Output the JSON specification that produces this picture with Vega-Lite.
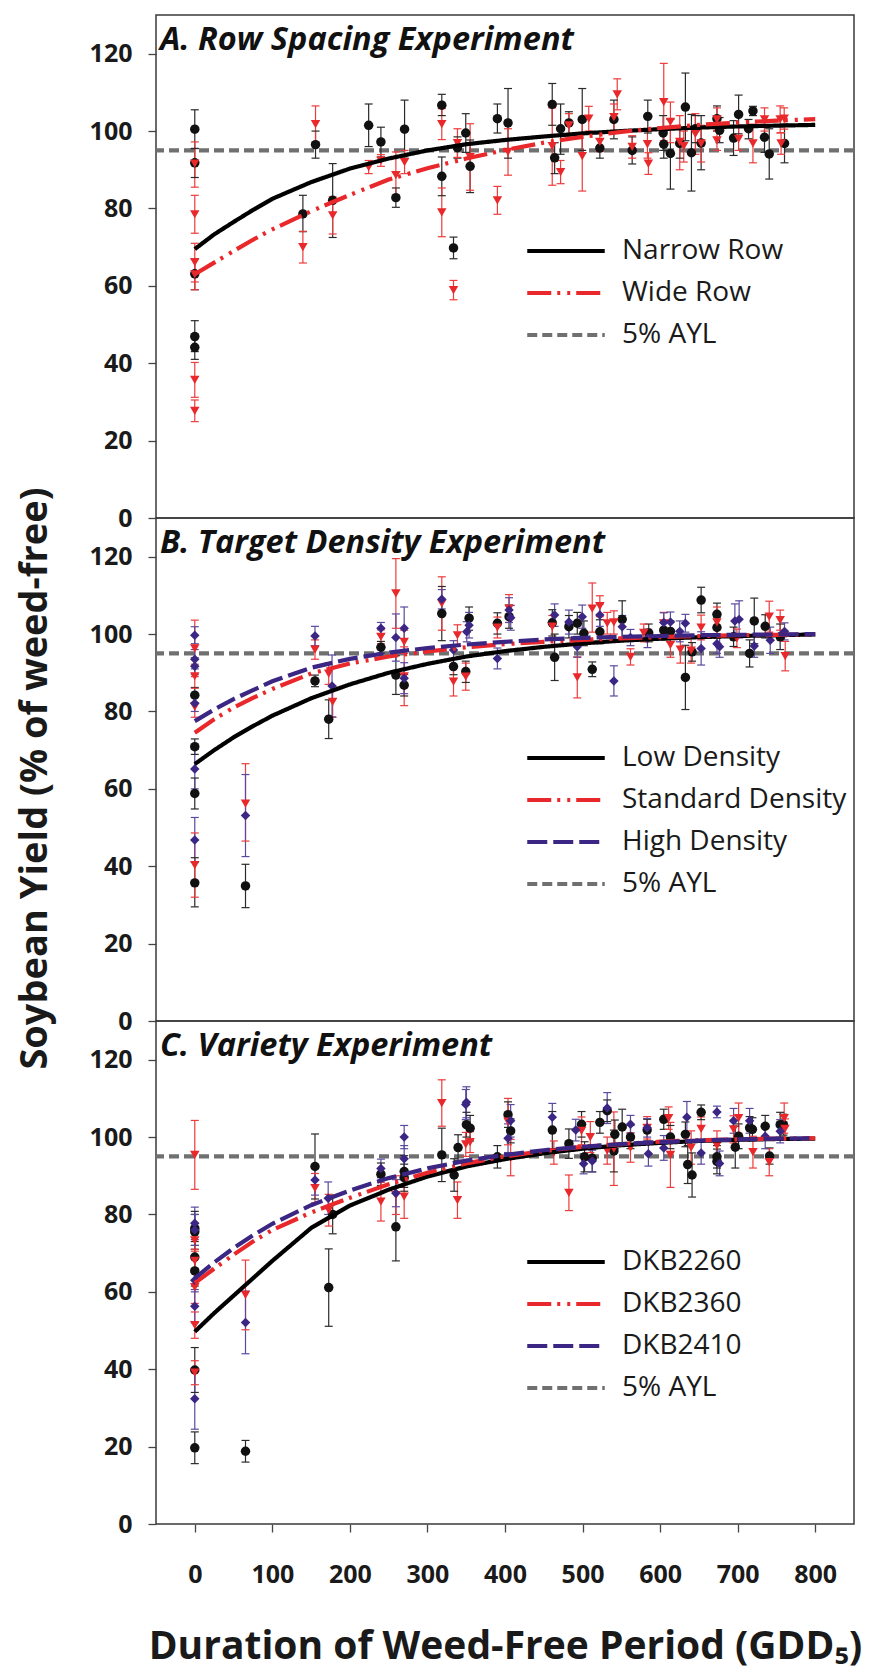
{
"$schema": "https://vega.github.io/schema/vega-lite/v6.json",
"padding": {"left": 15, "top": 14, "right": 0, "bottom": 3},
"autosize": {"type": "pad"},
"background": "white",
"bounds": "flush",
"spacing": 0,
"datasets": {
"ayl": [{"p":"A","s":"5% AYL","y":95},{"p":"B","s":"5% AYL","y":95},{"p":"C","s":"5% AYL","y":95}],
"pts": [
{"p":"A","s":"Narrow Row","x":0,"y":100.5,"lo":95.5,"hi":105.5},
{"p":"A","s":"Narrow Row","x":0,"y":91.8,"lo":88,"hi":95.5},
{"p":"A","s":"Narrow Row","x":0,"y":63.1,"lo":59,"hi":67},
{"p":"A","s":"Narrow Row","x":0,"y":46.9,"lo":43,"hi":51},
{"p":"A","s":"Narrow Row","x":0,"y":44.1,"lo":41,"hi":47.5},
{"p":"A","s":"Narrow Row","x":139.4,"y":78.6,"lo":74,"hi":83.4},
{"p":"A","s":"Narrow Row","x":155.7,"y":96.5,"lo":93,"hi":100},
{"p":"A","s":"Narrow Row","x":177.8,"y":82.1,"lo":72.5,"hi":91.6},
{"p":"A","s":"Narrow Row","x":224.2,"y":101.5,"lo":96,"hi":107},
{"p":"A","s":"Narrow Row","x":240,"y":97.2,"lo":93.3,"hi":101},
{"p":"A","s":"Narrow Row","x":259.3,"y":82.8,"lo":80.3,"hi":85.3},
{"p":"A","s":"Narrow Row","x":270.5,"y":100.5,"lo":93,"hi":108},
{"p":"A","s":"Narrow Row","x":318.5,"y":106.7,"lo":104,"hi":109.5},
{"p":"A","s":"Narrow Row","x":318.5,"y":88.3,"lo":83.3,"hi":93.3},
{"p":"A","s":"Narrow Row","x":333.6,"y":69.8,"lo":67,"hi":72.6},
{"p":"A","s":"Narrow Row","x":338.7,"y":95.7,"lo":93,"hi":98.5},
{"p":"A","s":"Narrow Row","x":349.4,"y":99.5,"lo":94.5,"hi":104.5},
{"p":"A","s":"Narrow Row","x":355,"y":90.9,"lo":84.1,"hi":97.7},
{"p":"A","s":"Narrow Row","x":390.2,"y":103.2,"lo":99.5,"hi":107},
{"p":"A","s":"Narrow Row","x":403.9,"y":102.1,"lo":93,"hi":111},
{"p":"A","s":"Narrow Row","x":460.9,"y":106.9,"lo":101.5,"hi":112.3},
{"p":"A","s":"Narrow Row","x":464,"y":93.1,"lo":89,"hi":97},
{"p":"A","s":"Narrow Row","x":471.7,"y":100.6,"lo":94,"hi":107},
{"p":"A","s":"Narrow Row","x":482.4,"y":102.1,"lo":99,"hi":105},
{"p":"A","s":"Narrow Row","x":499.6,"y":103,"lo":95,"hi":111},
{"p":"A","s":"Narrow Row","x":522.3,"y":95.6,"lo":93,"hi":98},
{"p":"A","s":"Narrow Row","x":540.4,"y":103,"lo":98,"hi":108},
{"p":"A","s":"Narrow Row","x":564,"y":95,"lo":91.5,"hi":98.5},
{"p":"A","s":"Narrow Row","x":584.1,"y":103.8,"lo":99.5,"hi":108},
{"p":"A","s":"Narrow Row","x":603.9,"y":99.5,"lo":95,"hi":104},
{"p":"A","s":"Narrow Row","x":604.7,"y":96.6,"lo":93,"hi":100},
{"p":"A","s":"Narrow Row","x":613.3,"y":94.2,"lo":85,"hi":103},
{"p":"A","s":"Narrow Row","x":632.6,"y":106.2,"lo":97.5,"hi":115},
{"p":"A","s":"Narrow Row","x":625.3,"y":96.8,"lo":93,"hi":100.5},
{"p":"A","s":"Narrow Row","x":640.4,"y":94.4,"lo":84.5,"hi":104.3},
{"p":"A","s":"Narrow Row","x":645.5,"y":100.6,"lo":97,"hi":104},
{"p":"A","s":"Narrow Row","x":652.9,"y":96.9,"lo":90,"hi":104},
{"p":"A","s":"Narrow Row","x":673.3,"y":103.2,"lo":100,"hi":106.5},
{"p":"A","s":"Narrow Row","x":676.7,"y":100.2,"lo":97,"hi":103.5},
{"p":"A","s":"Narrow Row","x":694.7,"y":98.2,"lo":93.7,"hi":102.7},
{"p":"A","s":"Narrow Row","x":701.2,"y":104.3,"lo":99.3,"hi":109.3},
{"p":"A","s":"Narrow Row","x":719.7,"y":105.2,"lo":104,"hi":106.4},
{"p":"A","s":"Narrow Row","x":714,"y":100.6,"lo":98,"hi":103},
{"p":"A","s":"Narrow Row","x":734.6,"y":98.4,"lo":94.5,"hi":102.3},
{"p":"A","s":"Narrow Row","x":740.7,"y":94.1,"lo":87.6,"hi":100.6},
{"p":"A","s":"Narrow Row","x":760.4,"y":96.8,"lo":91.8,"hi":101.8},
{"p":"A","s":"Wide Row","x":0,"y":91.6,"lo":85.5,"hi":97.2},
{"p":"A","s":"Wide Row","x":0,"y":78.5,"lo":73.6,"hi":83.4},
{"p":"A","s":"Wide Row","x":0,"y":66.1,"lo":61,"hi":71},
{"p":"A","s":"Wide Row","x":0,"y":63,"lo":59,"hi":67},
{"p":"A","s":"Wide Row","x":0,"y":35.7,"lo":31.2,"hi":40.2},
{"p":"A","s":"Wide Row","x":0,"y":27.7,"lo":24.9,"hi":30.5},
{"p":"A","s":"Wide Row","x":139.4,"y":70,"lo":65.9,"hi":74.1},
{"p":"A","s":"Wide Row","x":155.7,"y":101.8,"lo":97.1,"hi":106.5},
{"p":"A","s":"Wide Row","x":177.8,"y":78.2,"lo":73.4,"hi":83},
{"p":"A","s":"Wide Row","x":224.2,"y":90.7,"lo":89,"hi":92.4},
{"p":"A","s":"Wide Row","x":240,"y":92.4,"lo":90.9,"hi":93.9},
{"p":"A","s":"Wide Row","x":259.3,"y":88.6,"lo":82.6,"hi":94.6},
{"p":"A","s":"Wide Row","x":270.5,"y":92,"lo":89,"hi":95},
{"p":"A","s":"Wide Row","x":318.5,"y":101.8,"lo":97.8,"hi":105.8},
{"p":"A","s":"Wide Row","x":318.5,"y":79,"lo":72.7,"hi":85.3},
{"p":"A","s":"Wide Row","x":333.6,"y":58.9,"lo":56.4,"hi":61.4},
{"p":"A","s":"Wide Row","x":338.7,"y":96.9,"lo":93.2,"hi":100.6},
{"p":"A","s":"Wide Row","x":355,"y":93.3,"lo":84.7,"hi":101.9},
{"p":"A","s":"Wide Row","x":390.2,"y":82.1,"lo":78.5,"hi":85.7},
{"p":"A","s":"Wide Row","x":403.9,"y":94.6,"lo":88.6,"hi":100.6},
{"p":"A","s":"Wide Row","x":460.9,"y":96.1,"lo":86,"hi":106},
{"p":"A","s":"Wide Row","x":471.7,"y":89.4,"lo":86.4,"hi":92.4},
{"p":"A","s":"Wide Row","x":482.4,"y":101.5,"lo":98.5,"hi":104.5},
{"p":"A","s":"Wide Row","x":499.6,"y":93.5,"lo":84.5,"hi":102.5},
{"p":"A","s":"Wide Row","x":508,"y":103.2,"lo":100,"hi":106.4},
{"p":"A","s":"Wide Row","x":522.3,"y":97.2,"lo":94.7,"hi":99.7},
{"p":"A","s":"Wide Row","x":544.7,"y":109.5,"lo":105.5,"hi":113.5},
{"p":"A","s":"Wide Row","x":540.4,"y":103.6,"lo":100,"hi":107},
{"p":"A","s":"Wide Row","x":564,"y":95.9,"lo":93,"hi":98.8},
{"p":"A","s":"Wide Row","x":583.7,"y":96.6,"lo":93,"hi":100},
{"p":"A","s":"Wide Row","x":584.9,"y":91.6,"lo":88.8,"hi":94.4},
{"p":"A","s":"Wide Row","x":604.7,"y":107.5,"lo":97.5,"hi":117.5},
{"p":"A","s":"Wide Row","x":613.3,"y":102.4,"lo":97,"hi":107.5},
{"p":"A","s":"Wide Row","x":625.3,"y":97.2,"lo":90,"hi":104},
{"p":"A","s":"Wide Row","x":630.5,"y":96.1,"lo":92,"hi":100},
{"p":"A","s":"Wide Row","x":645.5,"y":99.3,"lo":94,"hi":104.5},
{"p":"A","s":"Wide Row","x":652.9,"y":96.8,"lo":92,"hi":101.5},
{"p":"A","s":"Wide Row","x":673.3,"y":97.6,"lo":95,"hi":100.2},
{"p":"A","s":"Wide Row","x":673.3,"y":103,"lo":100,"hi":106},
{"p":"A","s":"Wide Row","x":701.2,"y":98,"lo":95,"hi":101},
{"p":"A","s":"Wide Row","x":719.7,"y":96.8,"lo":91.8,"hi":101.8},
{"p":"A","s":"Wide Row","x":734.6,"y":103,"lo":100,"hi":106},
{"p":"A","s":"Wide Row","x":754.8,"y":103,"lo":99.5,"hi":106.5},
{"p":"A","s":"Wide Row","x":756,"y":96.8,"lo":94,"hi":99.6},
{"p":"A","s":"Wide Row","x":760,"y":103.2,"lo":100.5,"hi":106},
{"p":"B","s":"Low Density","x":0,"y":84.2,"lo":82.2,"hi":86.2},
{"p":"B","s":"Low Density","x":0,"y":70.9,"lo":68.9,"hi":72.9},
{"p":"B","s":"Low Density","x":0,"y":58.8,"lo":54.8,"hi":62.8},
{"p":"B","s":"Low Density","x":0,"y":35.7,"lo":29.5,"hi":42.2},
{"p":"B","s":"Low Density","x":65.4,"y":34.9,"lo":29.3,"hi":40.5},
{"p":"B","s":"Low Density","x":155,"y":87.9,"lo":86.4,"hi":89.4},
{"p":"B","s":"Low Density","x":172.7,"y":78,"lo":73,"hi":83},
{"p":"B","s":"Low Density","x":240,"y":96.6,"lo":95.1,"hi":98.1},
{"p":"B","s":"Low Density","x":259.3,"y":89.4,"lo":84.4,"hi":94.4},
{"p":"B","s":"Low Density","x":270,"y":86.8,"lo":84,"hi":89.6},
{"p":"B","s":"Low Density","x":318.5,"y":105.3,"lo":98.3,"hi":112.3},
{"p":"B","s":"Low Density","x":333.6,"y":91.6,"lo":89.5,"hi":93.7},
{"p":"B","s":"Low Density","x":349.4,"y":90.3,"lo":87.5,"hi":93},
{"p":"B","s":"Low Density","x":353.7,"y":104.1,"lo":101,"hi":107},
{"p":"B","s":"Low Density","x":390.2,"y":102.8,"lo":100,"hi":105.5},
{"p":"B","s":"Low Density","x":405.2,"y":104.5,"lo":101.5,"hi":107.5},
{"p":"B","s":"Low Density","x":461,"y":102.9,"lo":99.5,"hi":106.3},
{"p":"B","s":"Low Density","x":464,"y":94,"lo":88,"hi":100},
{"p":"B","s":"Low Density","x":482.4,"y":101.9,"lo":99,"hi":104.8},
{"p":"B","s":"Low Density","x":493.2,"y":102.8,"lo":100,"hi":105.6},
{"p":"B","s":"Low Density","x":501.7,"y":100.2,"lo":97,"hi":103.4},
{"p":"B","s":"Low Density","x":512.5,"y":90.9,"lo":89,"hi":92.8},
{"p":"B","s":"Low Density","x":522.3,"y":100.6,"lo":97.5,"hi":103.7},
{"p":"B","s":"Low Density","x":551.1,"y":103.8,"lo":99,"hi":108.6},
{"p":"B","s":"Low Density","x":585.3,"y":100.3,"lo":98,"hi":102.6},
{"p":"B","s":"Low Density","x":604.7,"y":101,"lo":98.5,"hi":103.5},
{"p":"B","s":"Low Density","x":613.3,"y":100.7,"lo":98,"hi":103.4},
{"p":"B","s":"Low Density","x":632.6,"y":88.8,"lo":80.5,"hi":97.1},
{"p":"B","s":"Low Density","x":641.2,"y":95.4,"lo":93,"hi":97.8},
{"p":"B","s":"Low Density","x":652.9,"y":108.8,"lo":105.5,"hi":112.1},
{"p":"B","s":"Low Density","x":673.3,"y":105.1,"lo":102.2,"hi":108},
{"p":"B","s":"Low Density","x":673.3,"y":101.7,"lo":99,"hi":104.4},
{"p":"B","s":"Low Density","x":694.7,"y":99.3,"lo":96.8,"hi":101.8},
{"p":"B","s":"Low Density","x":715.4,"y":95,"lo":91.5,"hi":98.5},
{"p":"B","s":"Low Density","x":721.4,"y":103.4,"lo":97.5,"hi":109.3},
{"p":"B","s":"Low Density","x":735.5,"y":102,"lo":99,"hi":105},
{"p":"B","s":"Low Density","x":754.8,"y":99.3,"lo":96,"hi":102.6},
{"p":"B","s":"Standard Density","x":0,"y":96.3,"lo":89,"hi":103.6},
{"p":"B","s":"Standard Density","x":0,"y":89.1,"lo":86,"hi":92.2},
{"p":"B","s":"Standard Density","x":0,"y":81.2,"lo":78.5,"hi":83.9},
{"p":"B","s":"Standard Density","x":0,"y":40.3,"lo":32,"hi":48.6},
{"p":"B","s":"Standard Density","x":65.4,"y":56.2,"lo":46.5,"hi":66.5},
{"p":"B","s":"Standard Density","x":155,"y":96,"lo":93.5,"hi":98.5},
{"p":"B","s":"Standard Density","x":172.7,"y":89.8,"lo":87,"hi":92.6},
{"p":"B","s":"Standard Density","x":177.8,"y":82.5,"lo":78.5,"hi":86.5},
{"p":"B","s":"Standard Density","x":240,"y":99.3,"lo":97.5,"hi":101.1},
{"p":"B","s":"Standard Density","x":259.3,"y":110.5,"lo":101.5,"hi":119.5},
{"p":"B","s":"Standard Density","x":270,"y":98,"lo":95,"hi":101},
{"p":"B","s":"Standard Density","x":270,"y":89.1,"lo":81.5,"hi":96.7},
{"p":"B","s":"Standard Density","x":318.5,"y":107.9,"lo":101,"hi":114.8},
{"p":"B","s":"Standard Density","x":333.6,"y":87.7,"lo":84,"hi":91.4},
{"p":"B","s":"Standard Density","x":338.7,"y":99.7,"lo":97,"hi":102.4},
{"p":"B","s":"Standard Density","x":349.4,"y":89,"lo":85.5,"hi":92.5},
{"p":"B","s":"Standard Density","x":390.2,"y":101.7,"lo":99,"hi":104.4},
{"p":"B","s":"Standard Density","x":405.2,"y":106.6,"lo":103,"hi":110.2},
{"p":"B","s":"Standard Density","x":461,"y":101.9,"lo":99,"hi":104.8},
{"p":"B","s":"Standard Density","x":493.2,"y":88.8,"lo":83.5,"hi":94.1},
{"p":"B","s":"Standard Density","x":512.5,"y":106.6,"lo":100.5,"hi":113.2},
{"p":"B","s":"Standard Density","x":522.3,"y":107.2,"lo":104.5,"hi":109.9},
{"p":"B","s":"Standard Density","x":531.8,"y":102.8,"lo":100,"hi":105.6},
{"p":"B","s":"Standard Density","x":540.4,"y":103,"lo":100,"hi":106},
{"p":"B","s":"Standard Density","x":561.8,"y":94.1,"lo":92,"hi":96.2},
{"p":"B","s":"Standard Density","x":578.9,"y":100.3,"lo":98,"hi":102.6},
{"p":"B","s":"Standard Density","x":604.7,"y":102.8,"lo":100,"hi":105.6},
{"p":"B","s":"Standard Density","x":613.3,"y":97.2,"lo":94,"hi":100.4},
{"p":"B","s":"Standard Density","x":626.1,"y":96,"lo":92.5,"hi":99.5},
{"p":"B","s":"Standard Density","x":640,"y":95.7,"lo":92.5,"hi":98.9},
{"p":"B","s":"Standard Density","x":652.9,"y":101.7,"lo":98.5,"hi":104.9},
{"p":"B","s":"Standard Density","x":673.3,"y":103,"lo":99,"hi":107},
{"p":"B","s":"Standard Density","x":699,"y":98.9,"lo":96.5,"hi":101.3},
{"p":"B","s":"Standard Density","x":740.7,"y":104.5,"lo":100.5,"hi":108.5},
{"p":"B","s":"Standard Density","x":754.8,"y":103.6,"lo":101,"hi":106.2},
{"p":"B","s":"Standard Density","x":761.3,"y":94.3,"lo":90.5,"hi":98.1},
{"p":"B","s":"High Density","x":0,"y":99.7,"lo":97.5,"hi":101.9},
{"p":"B","s":"High Density","x":0,"y":93.5,"lo":91,"hi":96},
{"p":"B","s":"High Density","x":0,"y":91.7,"lo":89.5,"hi":93.9},
{"p":"B","s":"High Density","x":0,"y":82.1,"lo":80,"hi":84.2},
{"p":"B","s":"High Density","x":0,"y":65.1,"lo":60,"hi":70.2},
{"p":"B","s":"High Density","x":0,"y":46.8,"lo":41,"hi":52.6},
{"p":"B","s":"High Density","x":65.4,"y":53.1,"lo":42.5,"hi":63.7},
{"p":"B","s":"High Density","x":155,"y":99.5,"lo":97,"hi":102},
{"p":"B","s":"High Density","x":177,"y":86.6,"lo":78.6,"hi":94.6},
{"p":"B","s":"High Density","x":240,"y":101.5,"lo":100,"hi":103},
{"p":"B","s":"High Density","x":259.3,"y":99.1,"lo":93,"hi":105.2},
{"p":"B","s":"High Density","x":270,"y":101.5,"lo":96,"hi":107},
{"p":"B","s":"High Density","x":270,"y":88.6,"lo":84.6,"hi":92.6},
{"p":"B","s":"High Density","x":318.5,"y":109,"lo":106.5,"hi":111.5},
{"p":"B","s":"High Density","x":333.6,"y":95.9,"lo":93.5,"hi":98.3},
{"p":"B","s":"High Density","x":350.7,"y":100.6,"lo":98,"hi":103.2},
{"p":"B","s":"High Density","x":353.7,"y":102.3,"lo":99,"hi":105.6},
{"p":"B","s":"High Density","x":390.2,"y":93.7,"lo":91,"hi":96.4},
{"p":"B","s":"High Density","x":405.2,"y":106.2,"lo":103,"hi":109.4},
{"p":"B","s":"High Density","x":407.4,"y":104.2,"lo":101,"hi":107.4},
{"p":"B","s":"High Density","x":464,"y":104.9,"lo":102,"hi":107.8},
{"p":"B","s":"High Density","x":482.4,"y":103.1,"lo":100,"hi":106.2},
{"p":"B","s":"High Density","x":493.2,"y":96.7,"lo":94,"hi":99.4},
{"p":"B","s":"High Density","x":499.6,"y":104.5,"lo":101.5,"hi":107.5},
{"p":"B","s":"High Density","x":522.3,"y":104.9,"lo":102,"hi":107.8},
{"p":"B","s":"High Density","x":540.4,"y":87.9,"lo":84,"hi":91.8},
{"p":"B","s":"High Density","x":551.1,"y":101.9,"lo":99,"hi":104.8},
{"p":"B","s":"High Density","x":561.8,"y":99.1,"lo":97,"hi":101.2},
{"p":"B","s":"High Density","x":583.7,"y":98.9,"lo":96.5,"hi":101.3},
{"p":"B","s":"High Density","x":604.7,"y":103,"lo":100.5,"hi":105.5},
{"p":"B","s":"High Density","x":613.3,"y":103.1,"lo":100.5,"hi":105.7},
{"p":"B","s":"High Density","x":632.6,"y":102.8,"lo":100.5,"hi":105.1},
{"p":"B","s":"High Density","x":625.3,"y":100.7,"lo":98,"hi":103.4},
{"p":"B","s":"High Density","x":652.9,"y":96.3,"lo":92,"hi":100.6},
{"p":"B","s":"High Density","x":673.3,"y":97.5,"lo":95,"hi":100},
{"p":"B","s":"High Density","x":676.7,"y":96.7,"lo":94,"hi":99.4},
{"p":"B","s":"High Density","x":696.4,"y":103.4,"lo":99,"hi":107.8},
{"p":"B","s":"High Density","x":701.9,"y":103.8,"lo":99,"hi":108.6},
{"p":"B","s":"High Density","x":721.4,"y":96.9,"lo":94,"hi":99.8},
{"p":"B","s":"High Density","x":742,"y":98.4,"lo":95,"hi":101.8},
{"p":"B","s":"High Density","x":760.4,"y":100.7,"lo":98.5,"hi":102.9},
{"p":"C","s":"DKB2260","x":0,"y":76.4,"lo":72,"hi":80.8},
{"p":"C","s":"DKB2260","x":0,"y":75.5,"lo":71,"hi":80},
{"p":"C","s":"DKB2260","x":0,"y":69,"lo":65,"hi":73},
{"p":"C","s":"DKB2260","x":0,"y":65.4,"lo":61.5,"hi":69.3},
{"p":"C","s":"DKB2260","x":0,"y":39.8,"lo":34,"hi":45.6},
{"p":"C","s":"DKB2260","x":0,"y":19.7,"lo":15.6,"hi":23.8},
{"p":"C","s":"DKB2260","x":65.4,"y":18.8,"lo":16,"hi":21.6},
{"p":"C","s":"DKB2260","x":155,"y":92.4,"lo":84,"hi":100.8},
{"p":"C","s":"DKB2260","x":172.7,"y":61.1,"lo":51.1,"hi":71.1},
{"p":"C","s":"DKB2260","x":177.8,"y":80,"lo":75,"hi":85},
{"p":"C","s":"DKB2260","x":240,"y":90.4,"lo":87.5,"hi":93.3},
{"p":"C","s":"DKB2260","x":259.3,"y":76.8,"lo":68,"hi":85.6},
{"p":"C","s":"DKB2260","x":270,"y":91.1,"lo":87,"hi":95.2},
{"p":"C","s":"DKB2260","x":270,"y":89.5,"lo":86,"hi":93},
{"p":"C","s":"DKB2260","x":318.5,"y":95.4,"lo":88.5,"hi":102.3},
{"p":"C","s":"DKB2260","x":334.4,"y":90.2,"lo":86,"hi":94.4},
{"p":"C","s":"DKB2260","x":339.5,"y":97.3,"lo":94,"hi":100.6},
{"p":"C","s":"DKB2260","x":350.3,"y":103.2,"lo":100,"hi":106.4},
{"p":"C","s":"DKB2260","x":355,"y":102.3,"lo":99,"hi":105.6},
{"p":"C","s":"DKB2260","x":390.2,"y":94.9,"lo":92,"hi":97.8},
{"p":"C","s":"DKB2260","x":403.9,"y":105.8,"lo":102.5,"hi":109.1},
{"p":"C","s":"DKB2260","x":407.3,"y":101.6,"lo":98.5,"hi":104.7},
{"p":"C","s":"DKB2260","x":461,"y":101.8,"lo":97,"hi":106.6},
{"p":"C","s":"DKB2260","x":482.4,"y":98.3,"lo":94.5,"hi":102.1},
{"p":"C","s":"DKB2260","x":498.7,"y":103.3,"lo":100,"hi":106.6},
{"p":"C","s":"DKB2260","x":502.6,"y":94.9,"lo":91,"hi":98.8},
{"p":"C","s":"DKB2260","x":512.5,"y":94.5,"lo":91,"hi":98},
{"p":"C","s":"DKB2260","x":522.3,"y":103.8,"lo":101,"hi":106.6},
{"p":"C","s":"DKB2260","x":531.8,"y":106.8,"lo":104,"hi":109.6},
{"p":"C","s":"DKB2260","x":541.6,"y":100.7,"lo":97,"hi":104.4},
{"p":"C","s":"DKB2260","x":540.4,"y":96.4,"lo":91,"hi":101.8},
{"p":"C","s":"DKB2260","x":551.1,"y":102.6,"lo":98,"hi":107.2},
{"p":"C","s":"DKB2260","x":561.8,"y":100,"lo":97,"hi":103},
{"p":"C","s":"DKB2260","x":583.3,"y":101.8,"lo":99,"hi":104.6},
{"p":"C","s":"DKB2260","x":604.7,"y":104.6,"lo":102,"hi":107.2},
{"p":"C","s":"DKB2260","x":613.3,"y":100,"lo":97,"hi":103},
{"p":"C","s":"DKB2260","x":632.6,"y":100.7,"lo":97.5,"hi":103.9},
{"p":"C","s":"DKB2260","x":635.6,"y":92.9,"lo":88,"hi":97.8},
{"p":"C","s":"DKB2260","x":641.2,"y":90.2,"lo":84.5,"hi":95.9},
{"p":"C","s":"DKB2260","x":652.9,"y":106.4,"lo":104.5,"hi":108.3},
{"p":"C","s":"DKB2260","x":673.3,"y":94.9,"lo":92,"hi":97.8},
{"p":"C","s":"DKB2260","x":673.3,"y":93.7,"lo":90.5,"hi":96.9},
{"p":"C","s":"DKB2260","x":696.9,"y":97.4,"lo":92,"hi":102.8},
{"p":"C","s":"DKB2260","x":701.2,"y":100.2,"lo":97,"hi":103.4},
{"p":"C","s":"DKB2260","x":715.4,"y":102.4,"lo":99.5,"hi":105.3},
{"p":"C","s":"DKB2260","x":719,"y":102,"lo":99,"hi":105},
{"p":"C","s":"DKB2260","x":735.5,"y":102.8,"lo":100,"hi":105.6},
{"p":"C","s":"DKB2260","x":741.1,"y":95.1,"lo":93,"hi":97.2},
{"p":"C","s":"DKB2260","x":754.8,"y":103.2,"lo":100,"hi":106.4},
{"p":"C","s":"DKB2260","x":759,"y":103.2,"lo":100.5,"hi":105.9},
{"p":"C","s":"DKB2360","x":0,"y":95.4,"lo":86.5,"hi":104.3},
{"p":"C","s":"DKB2360","x":0,"y":73.3,"lo":70.5,"hi":76.1},
{"p":"C","s":"DKB2360","x":0,"y":68,"lo":65,"hi":71},
{"p":"C","s":"DKB2360","x":0,"y":61.2,"lo":57,"hi":65.4},
{"p":"C","s":"DKB2360","x":0,"y":51.4,"lo":48,"hi":54.8},
{"p":"C","s":"DKB2360","x":0,"y":39.1,"lo":36,"hi":42.2},
{"p":"C","s":"DKB2360","x":65.4,"y":59.2,"lo":50.2,"hi":68.2},
{"p":"C","s":"DKB2360","x":155,"y":86.8,"lo":83,"hi":90.6},
{"p":"C","s":"DKB2360","x":172.7,"y":81.1,"lo":77,"hi":85.2},
{"p":"C","s":"DKB2360","x":240,"y":83.3,"lo":78.3,"hi":88.3},
{"p":"C","s":"DKB2360","x":259.3,"y":85,"lo":80,"hi":90},
{"p":"C","s":"DKB2360","x":270,"y":84.6,"lo":79,"hi":90.2},
{"p":"C","s":"DKB2360","x":318.5,"y":108.8,"lo":102.8,"hi":114.8},
{"p":"C","s":"DKB2360","x":338.7,"y":83.7,"lo":79,"hi":88.4},
{"p":"C","s":"DKB2360","x":349.4,"y":98.1,"lo":95,"hi":101.2},
{"p":"C","s":"DKB2360","x":355,"y":98.7,"lo":96,"hi":101.4},
{"p":"C","s":"DKB2360","x":403.9,"y":104,"lo":98,"hi":110},
{"p":"C","s":"DKB2360","x":407.3,"y":94.7,"lo":90,"hi":99.4},
{"p":"C","s":"DKB2360","x":463,"y":96,"lo":93,"hi":99},
{"p":"C","s":"DKB2360","x":482.4,"y":85.6,"lo":81,"hi":90.2},
{"p":"C","s":"DKB2360","x":498.7,"y":101.6,"lo":98,"hi":105.2},
{"p":"C","s":"DKB2360","x":510,"y":100,"lo":96,"hi":104},
{"p":"C","s":"DKB2360","x":531.8,"y":96.5,"lo":93,"hi":100},
{"p":"C","s":"DKB2360","x":540.4,"y":97,"lo":87.5,"hi":106.5},
{"p":"C","s":"DKB2360","x":561.8,"y":97.3,"lo":93.5,"hi":101.1},
{"p":"C","s":"DKB2360","x":583.3,"y":102.4,"lo":99.5,"hi":105.3},
{"p":"C","s":"DKB2360","x":611,"y":104.9,"lo":102,"hi":107.8},
{"p":"C","s":"DKB2360","x":613.3,"y":95.4,"lo":87,"hi":103.8},
{"p":"C","s":"DKB2360","x":640,"y":97.3,"lo":93,"hi":101.6},
{"p":"C","s":"DKB2360","x":652.9,"y":102.1,"lo":99,"hi":105.2},
{"p":"C","s":"DKB2360","x":673.3,"y":97.8,"lo":94,"hi":101.6},
{"p":"C","s":"DKB2360","x":694.7,"y":102,"lo":98.5,"hi":105.5},
{"p":"C","s":"DKB2360","x":701.2,"y":104.9,"lo":101,"hi":108.8},
{"p":"C","s":"DKB2360","x":719.7,"y":96.1,"lo":92,"hi":100.2},
{"p":"C","s":"DKB2360","x":740.7,"y":93.5,"lo":90,"hi":97},
{"p":"C","s":"DKB2360","x":760,"y":104.9,"lo":101,"hi":108.8},
{"p":"C","s":"DKB2360","x":761,"y":102.1,"lo":99.5,"hi":104.7},
{"p":"C","s":"DKB2410","x":0,"y":77.7,"lo":73.5,"hi":81.9},
{"p":"C","s":"DKB2410","x":0,"y":76,"lo":72,"hi":80},
{"p":"C","s":"DKB2410","x":0,"y":63,"lo":60,"hi":66},
{"p":"C","s":"DKB2410","x":0,"y":56.3,"lo":52,"hi":60.6},
{"p":"C","s":"DKB2410","x":0,"y":32.4,"lo":24.5,"hi":40.3},
{"p":"C","s":"DKB2410","x":65.4,"y":52.1,"lo":44,"hi":60.2},
{"p":"C","s":"DKB2410","x":155,"y":88.9,"lo":85,"hi":92.8},
{"p":"C","s":"DKB2410","x":172,"y":84.2,"lo":80,"hi":88.4},
{"p":"C","s":"DKB2410","x":240,"y":91.9,"lo":89.5,"hi":94.3},
{"p":"C","s":"DKB2410","x":259.3,"y":85.5,"lo":82,"hi":89},
{"p":"C","s":"DKB2410","x":270,"y":100,"lo":97,"hi":103},
{"p":"C","s":"DKB2410","x":270,"y":94.4,"lo":91,"hi":97.8},
{"p":"C","s":"DKB2410","x":349.4,"y":108.4,"lo":104.5,"hi":112.3},
{"p":"C","s":"DKB2410","x":350.3,"y":109,"lo":105,"hi":113},
{"p":"C","s":"DKB2410","x":407.3,"y":104.2,"lo":100,"hi":108.4},
{"p":"C","s":"DKB2410","x":403.9,"y":99.7,"lo":96,"hi":103.4},
{"p":"C","s":"DKB2410","x":461,"y":105.1,"lo":101.5,"hi":108.7},
{"p":"C","s":"DKB2410","x":491.2,"y":101.8,"lo":99,"hi":104.6},
{"p":"C","s":"DKB2410","x":501.4,"y":93.1,"lo":90.5,"hi":95.7},
{"p":"C","s":"DKB2410","x":512.5,"y":93.8,"lo":91,"hi":96.6},
{"p":"C","s":"DKB2410","x":531.8,"y":107.5,"lo":103.5,"hi":111.5},
{"p":"C","s":"DKB2410","x":561.8,"y":103.3,"lo":101,"hi":105.6},
{"p":"C","s":"DKB2410","x":583.3,"y":102.4,"lo":100,"hi":104.8},
{"p":"C","s":"DKB2410","x":584.9,"y":95.7,"lo":92.5,"hi":98.9},
{"p":"C","s":"DKB2410","x":604.7,"y":97.2,"lo":94,"hi":100.4},
{"p":"C","s":"DKB2410","x":634.5,"y":105.1,"lo":101,"hi":109.2},
{"p":"C","s":"DKB2410","x":652.9,"y":95.9,"lo":93,"hi":98.8},
{"p":"C","s":"DKB2410","x":673.3,"y":106.5,"lo":105,"hi":108},
{"p":"C","s":"DKB2410","x":676.7,"y":93.2,"lo":90,"hi":96.4},
{"p":"C","s":"DKB2410","x":694.7,"y":104.2,"lo":101,"hi":107.4},
{"p":"C","s":"DKB2410","x":715.4,"y":104.2,"lo":101,"hi":107.4},
{"p":"C","s":"DKB2410","x":735.5,"y":100.2,"lo":97,"hi":103.4},
{"p":"C","s":"DKB2410","x":754.8,"y":101.5,"lo":98.5,"hi":104.5}
],
"crv": [
{"p":"A","s":"Narrow Row","x":0,"y":69.5},{"p":"A","s":"Narrow Row","x":25,"y":73.3},{"p":"A","s":"Narrow Row","x":50,"y":76.5},{"p":"A","s":"Narrow Row","x":75,"y":79.6},{"p":"A","s":"Narrow Row","x":100,"y":82.5},{"p":"A","s":"Narrow Row","x":150,"y":86.8},{"p":"A","s":"Narrow Row","x":200,"y":90.3},{"p":"A","s":"Narrow Row","x":250,"y":92.9},{"p":"A","s":"Narrow Row","x":300,"y":95},{"p":"A","s":"Narrow Row","x":350,"y":96.6},{"p":"A","s":"Narrow Row","x":400,"y":97.7},{"p":"A","s":"Narrow Row","x":450,"y":98.6},{"p":"A","s":"Narrow Row","x":500,"y":99.4},{"p":"A","s":"Narrow Row","x":550,"y":100},{"p":"A","s":"Narrow Row","x":600,"y":100.5},{"p":"A","s":"Narrow Row","x":650,"y":100.9},{"p":"A","s":"Narrow Row","x":700,"y":101.2},{"p":"A","s":"Narrow Row","x":750,"y":101.4},{"p":"A","s":"Narrow Row","x":800,"y":101.6},
{"p":"A","s":"Wide Row","x":0,"y":63},{"p":"A","s":"Wide Row","x":25,"y":66},{"p":"A","s":"Wide Row","x":50,"y":69},{"p":"A","s":"Wide Row","x":75,"y":71.9},{"p":"A","s":"Wide Row","x":100,"y":74.6},{"p":"A","s":"Wide Row","x":150,"y":79.3},{"p":"A","s":"Wide Row","x":200,"y":83.5},{"p":"A","s":"Wide Row","x":250,"y":87.5},{"p":"A","s":"Wide Row","x":300,"y":90.4},{"p":"A","s":"Wide Row","x":350,"y":92.9},{"p":"A","s":"Wide Row","x":400,"y":95.1},{"p":"A","s":"Wide Row","x":450,"y":97},{"p":"A","s":"Wide Row","x":500,"y":98.5},{"p":"A","s":"Wide Row","x":550,"y":99.8},{"p":"A","s":"Wide Row","x":600,"y":100.8},{"p":"A","s":"Wide Row","x":650,"y":101.6},{"p":"A","s":"Wide Row","x":700,"y":102.2},{"p":"A","s":"Wide Row","x":750,"y":102.7},{"p":"A","s":"Wide Row","x":800,"y":103.1},
{"p":"B","s":"Low Density","x":0,"y":66.4},{"p":"B","s":"Low Density","x":25,"y":70},{"p":"B","s":"Low Density","x":50,"y":73.3},{"p":"B","s":"Low Density","x":75,"y":76.2},{"p":"B","s":"Low Density","x":100,"y":78.9},{"p":"B","s":"Low Density","x":150,"y":83.4},{"p":"B","s":"Low Density","x":200,"y":87},{"p":"B","s":"Low Density","x":250,"y":90},{"p":"B","s":"Low Density","x":300,"y":92.3},{"p":"B","s":"Low Density","x":350,"y":94.2},{"p":"B","s":"Low Density","x":400,"y":95.6},{"p":"B","s":"Low Density","x":450,"y":96.7},{"p":"B","s":"Low Density","x":500,"y":97.6},{"p":"B","s":"Low Density","x":550,"y":98.3},{"p":"B","s":"Low Density","x":600,"y":98.8},{"p":"B","s":"Low Density","x":650,"y":99.2},{"p":"B","s":"Low Density","x":700,"y":99.5},{"p":"B","s":"Low Density","x":750,"y":99.7},{"p":"B","s":"Low Density","x":800,"y":99.9},
{"p":"B","s":"Standard Density","x":0,"y":74.5},{"p":"B","s":"Standard Density","x":25,"y":78},{"p":"B","s":"Standard Density","x":50,"y":81},{"p":"B","s":"Standard Density","x":75,"y":83.5},{"p":"B","s":"Standard Density","x":100,"y":85.8},{"p":"B","s":"Standard Density","x":150,"y":89.8},{"p":"B","s":"Standard Density","x":200,"y":92.4},{"p":"B","s":"Standard Density","x":250,"y":94.2},{"p":"B","s":"Standard Density","x":300,"y":95.5},{"p":"B","s":"Standard Density","x":350,"y":96.6},{"p":"B","s":"Standard Density","x":400,"y":97.4},{"p":"B","s":"Standard Density","x":450,"y":98},{"p":"B","s":"Standard Density","x":500,"y":98.5},{"p":"B","s":"Standard Density","x":550,"y":98.9},{"p":"B","s":"Standard Density","x":600,"y":99.2},{"p":"B","s":"Standard Density","x":650,"y":99.5},{"p":"B","s":"Standard Density","x":700,"y":99.7},{"p":"B","s":"Standard Density","x":750,"y":99.8},{"p":"B","s":"Standard Density","x":800,"y":99.9},
{"p":"B","s":"High Density","x":0,"y":77.5},{"p":"B","s":"High Density","x":25,"y":80.5},{"p":"B","s":"High Density","x":50,"y":83.2},{"p":"B","s":"High Density","x":75,"y":85.5},{"p":"B","s":"High Density","x":100,"y":87.8},{"p":"B","s":"High Density","x":150,"y":91.3},{"p":"B","s":"High Density","x":200,"y":93.6},{"p":"B","s":"High Density","x":250,"y":95.2},{"p":"B","s":"High Density","x":300,"y":96.4},{"p":"B","s":"High Density","x":350,"y":97.3},{"p":"B","s":"High Density","x":400,"y":98},{"p":"B","s":"High Density","x":450,"y":98.6},{"p":"B","s":"High Density","x":500,"y":99},{"p":"B","s":"High Density","x":550,"y":99.3},{"p":"B","s":"High Density","x":600,"y":99.5},{"p":"B","s":"High Density","x":650,"y":99.7},{"p":"B","s":"High Density","x":700,"y":99.8},{"p":"B","s":"High Density","x":750,"y":99.9},{"p":"B","s":"High Density","x":800,"y":100},
{"p":"C","s":"DKB2260","x":0,"y":49.7},{"p":"C","s":"DKB2260","x":25,"y":54.5},{"p":"C","s":"DKB2260","x":50,"y":59},{"p":"C","s":"DKB2260","x":75,"y":63.5},{"p":"C","s":"DKB2260","x":100,"y":68},{"p":"C","s":"DKB2260","x":150,"y":76.5},{"p":"C","s":"DKB2260","x":200,"y":82.3},{"p":"C","s":"DKB2260","x":250,"y":86.4},{"p":"C","s":"DKB2260","x":300,"y":89.8},{"p":"C","s":"DKB2260","x":350,"y":92.4},{"p":"C","s":"DKB2260","x":400,"y":94.3},{"p":"C","s":"DKB2260","x":450,"y":95.8},{"p":"C","s":"DKB2260","x":500,"y":97},{"p":"C","s":"DKB2260","x":550,"y":97.9},{"p":"C","s":"DKB2260","x":600,"y":98.5},{"p":"C","s":"DKB2260","x":650,"y":99},{"p":"C","s":"DKB2260","x":700,"y":99.3},{"p":"C","s":"DKB2260","x":750,"y":99.5},{"p":"C","s":"DKB2260","x":800,"y":99.6},
{"p":"C","s":"DKB2360","x":0,"y":62.3},{"p":"C","s":"DKB2360","x":25,"y":66},{"p":"C","s":"DKB2360","x":50,"y":69.6},{"p":"C","s":"DKB2360","x":75,"y":73},{"p":"C","s":"DKB2360","x":100,"y":76},{"p":"C","s":"DKB2360","x":150,"y":80.5},{"p":"C","s":"DKB2360","x":200,"y":84.3},{"p":"C","s":"DKB2360","x":250,"y":87.8},{"p":"C","s":"DKB2360","x":300,"y":90.8},{"p":"C","s":"DKB2360","x":350,"y":93.2},{"p":"C","s":"DKB2360","x":400,"y":95},{"p":"C","s":"DKB2360","x":450,"y":96.4},{"p":"C","s":"DKB2360","x":500,"y":97.5},{"p":"C","s":"DKB2360","x":550,"y":98.2},{"p":"C","s":"DKB2360","x":600,"y":98.8},{"p":"C","s":"DKB2360","x":650,"y":99.2},{"p":"C","s":"DKB2360","x":700,"y":99.4},{"p":"C","s":"DKB2360","x":750,"y":99.6},{"p":"C","s":"DKB2360","x":800,"y":99.7},
{"p":"C","s":"DKB2410","x":0,"y":63.5},{"p":"C","s":"DKB2410","x":25,"y":67.6},{"p":"C","s":"DKB2410","x":50,"y":71.3},{"p":"C","s":"DKB2410","x":75,"y":74.6},{"p":"C","s":"DKB2410","x":100,"y":77.6},{"p":"C","s":"DKB2410","x":150,"y":82.4},{"p":"C","s":"DKB2410","x":200,"y":86.2},{"p":"C","s":"DKB2410","x":250,"y":89.4},{"p":"C","s":"DKB2410","x":300,"y":91.9},{"p":"C","s":"DKB2410","x":350,"y":93.9},{"p":"C","s":"DKB2410","x":400,"y":95.4},{"p":"C","s":"DKB2410","x":450,"y":96.6},{"p":"C","s":"DKB2410","x":500,"y":97.5},{"p":"C","s":"DKB2410","x":550,"y":98.2},{"p":"C","s":"DKB2410","x":600,"y":98.7},{"p":"C","s":"DKB2410","x":650,"y":99.1},{"p":"C","s":"DKB2410","x":700,"y":99.4},{"p":"C","s":"DKB2410","x":750,"y":99.6},{"p":"C","s":"DKB2410","x":800,"y":99.7}
]
},
"vconcat": [
{
"width": 698, "height": 503,
"layer": [
{"data":{"name":"ayl"},"transform":[{"filter":"datum.p=='A'"}],"mark":{"type":"rule"},
 "encoding":{"y":{"field":"y","type":"quantitative","scale":{"domain":[0,130],"nice":false},"axis":{"values":[0,20,40,60,80,100,120],"title":null}},
 "color":{"field":"s","type":"nominal","scale":{"domain":["Narrow Row","Wide Row","5% AYL"],"range":["#000000","#e8282b","#707070"]},"legend":{"orient":"none","legendX":392,"legendY":218,"title":null}},
 "strokeDash":{"field":"s","type":"nominal","scale":{"domain":["Narrow Row","Wide Row","5% AYL"],"range":[[1,0],[24,6,3,7,3,6],[10,5]]},"legend":{"orient":"none","legendX":392,"legendY":218,"title":null}},
 "strokeWidth":{"field":"s","type":"nominal","scale":{"domain":["Narrow Row","Wide Row","5% AYL"],"range":[4.2,4.2,1]},"legend":{"orient":"none","legendX":392,"legendY":218,"title":null}}}},
{"data":{"name":"pts"},"transform":[{"filter":"datum.p=='A'"}],"mark":{"type":"rule","strokeWidth":1.2},
 "encoding":{"x":{"field":"x","type":"quantitative","scale":{"domain":[-50,850],"nice":false},"axis":null},"y":{"field":"lo","type":"quantitative","scale":{"domain":[0,130],"nice":false},"axis":{"values":[0,20,40,60,80,100,120],"title":null}},"y2":{"field":"hi"},
 "stroke":{"field":"s","type":"nominal","scale":{"domain":["Narrow Row","Wide Row"],"range":["#2a2a2a","#ee3b3b"]},"legend":null}}},
{"data":{"name":"pts"},"transform":[{"filter":"datum.p=='A'"},{"fold":["lo","hi"],"as":["k","v"]}],"mark":{"type":"point","shape":"stroke","size":64,"strokeWidth":1.2,"opacity":1},
 "encoding":{"x":{"field":"x","type":"quantitative","scale":{"domain":[-50,850],"nice":false},"axis":null},"y":{"field":"v","type":"quantitative","scale":{"domain":[0,130],"nice":false},"axis":{"values":[0,20,40,60,80,100,120],"title":null}},
 "stroke":{"field":"s","type":"nominal","scale":{"domain":["Narrow Row","Wide Row"],"range":["#2a2a2a","#ee3b3b"]},"legend":null}}},
{"data":{"name":"pts"},"transform":[{"filter":"datum.p=='A'"}],"mark":{"type":"point","filled":true,"size":90,"opacity":1},
 "encoding":{"x":{"field":"x","type":"quantitative","scale":{"domain":[-50,850],"nice":false},"axis":null},"y":{"field":"y","type":"quantitative","scale":{"domain":[0,130],"nice":false},"axis":{"values":[0,20,40,60,80,100,120],"title":null}},
 "fill":{"field":"s","type":"nominal","scale":{"domain":["Narrow Row","Wide Row"],"range":["#111111","#e8282b"]},"legend":null},
 "shape":{"field":"s","type":"nominal","scale":{"domain":["Narrow Row","Wide Row"],"range":["circle","triangle-down"]},"legend":null}}},
{"data":{"name":"crv"},"transform":[{"filter":"datum.p=='A'"}],"mark":{"type":"line"},
 "encoding":{"x":{"field":"x","type":"quantitative","scale":{"domain":[-50,850],"nice":false},"axis":null},"y":{"field":"y","type":"quantitative","scale":{"domain":[0,130],"nice":false},"axis":{"values":[0,20,40,60,80,100,120],"title":null}},
 "color":{"field":"s","type":"nominal","scale":{"domain":["Narrow Row","Wide Row","5% AYL"],"range":["#000000","#e8282b","#707070"]},"legend":{"orient":"none","legendX":392,"legendY":218,"title":null}},
 "strokeDash":{"field":"s","type":"nominal","scale":{"domain":["Narrow Row","Wide Row","5% AYL"],"range":[[1,0],[24,6,3,7,3,6],[10,5]]},"legend":{"orient":"none","legendX":392,"legendY":218,"title":null}},
 "strokeWidth":{"field":"s","type":"nominal","scale":{"domain":["Narrow Row","Wide Row","5% AYL"],"range":[4.2,4.2,1]},"legend":{"orient":"none","legendX":392,"legendY":218,"title":null}}}},
{"data":{"values":[{}]},"mark":{"type":"text","text":"A. Row Spacing Experiment","align":"left","baseline":"alphabetic","font":"Open Sans","fontSize":32.5,"fontWeight":"bold","fontStyle":"italic","color":"#111"},
 "encoding":{"x":{"datum":-45,"type":"quantitative","axis":null},"y":{"datum":121,"type":"quantitative","axis":{"values":[0,20,40,60,80,100,120],"title":null}}}}
]
},
{
"width": 698, "height": 503,
"layer": [
{"data":{"name":"ayl"},"transform":[{"filter":"datum.p=='B'"}],"mark":{"type":"rule"},
 "encoding":{"y":{"field":"y","type":"quantitative","scale":{"domain":[0,130],"nice":false},"axis":{"values":[0,20,40,60,80,100,120],"title":"Soybean Yield (% of weed-free)","titleFontSize":38,"titleAngle":270,"titleAlign":"center","titleBaseline":"middle","titleX":-121,"titleY":260}},
 "color":{"field":"s","type":"nominal","scale":{"domain":["Low Density","Standard Density","High Density","5% AYL"],"range":["#000000","#e8282b","#3b2683","#707070"]},"legend":{"orient":"none","legendX":392,"legendY":222,"title":null}},
 "strokeDash":{"field":"s","type":"nominal","scale":{"domain":["Low Density","Standard Density","High Density","5% AYL"],"range":[[1,0],[24,6,3,7,3,6],[20,6],[10,5]]},"legend":{"orient":"none","legendX":392,"legendY":222,"title":null}},
 "strokeWidth":{"field":"s","type":"nominal","scale":{"domain":["Low Density","Standard Density","High Density","5% AYL"],"range":[4.2,4.2,4.2,1]},"legend":{"orient":"none","legendX":392,"legendY":222,"title":null}}}},
{"data":{"name":"pts"},"transform":[{"filter":"datum.p=='B'"}],"mark":{"type":"rule","strokeWidth":1.2},
 "encoding":{"x":{"field":"x","type":"quantitative","scale":{"domain":[-50,850],"nice":false},"axis":null},"y":{"field":"lo","type":"quantitative","scale":{"domain":[0,130],"nice":false},"axis":{"values":[0,20,40,60,80,100,120],"title":"Soybean Yield (% of weed-free)","titleFontSize":38,"titleAngle":270,"titleAlign":"center","titleBaseline":"middle","titleX":-121,"titleY":260}},"y2":{"field":"hi"},
 "stroke":{"field":"s","type":"nominal","scale":{"domain":["Low Density","Standard Density","High Density"],"range":["#2a2a2a","#ee3b3b","#5a4a9e"]},"legend":null}}},
{"data":{"name":"pts"},"transform":[{"filter":"datum.p=='B'"},{"fold":["lo","hi"],"as":["k","v"]}],"mark":{"type":"point","shape":"stroke","size":64,"strokeWidth":1.2,"opacity":1},
 "encoding":{"x":{"field":"x","type":"quantitative","scale":{"domain":[-50,850],"nice":false},"axis":null},"y":{"field":"v","type":"quantitative","scale":{"domain":[0,130],"nice":false},"axis":{"values":[0,20,40,60,80,100,120],"title":"Soybean Yield (% of weed-free)","titleFontSize":38,"titleAngle":270,"titleAlign":"center","titleBaseline":"middle","titleX":-121,"titleY":260}},
 "stroke":{"field":"s","type":"nominal","scale":{"domain":["Low Density","Standard Density","High Density"],"range":["#2a2a2a","#ee3b3b","#5a4a9e"]},"legend":null}}},
{"data":{"name":"pts"},"transform":[{"filter":"datum.p=='B'"}],"mark":{"type":"point","filled":true,"size":90,"opacity":1},
 "encoding":{"x":{"field":"x","type":"quantitative","scale":{"domain":[-50,850],"nice":false},"axis":null},"y":{"field":"y","type":"quantitative","scale":{"domain":[0,130],"nice":false},"axis":{"values":[0,20,40,60,80,100,120],"title":"Soybean Yield (% of weed-free)","titleFontSize":38,"titleAngle":270,"titleAlign":"center","titleBaseline":"middle","titleX":-121,"titleY":260}},
 "fill":{"field":"s","type":"nominal","scale":{"domain":["Low Density","Standard Density","High Density"],"range":["#111111","#e8282b","#3b2683"]},"legend":null},
 "shape":{"field":"s","type":"nominal","scale":{"domain":["Low Density","Standard Density","High Density"],"range":["circle","triangle-down","diamond"]},"legend":null}}},
{"data":{"name":"crv"},"transform":[{"filter":"datum.p=='B'"}],"mark":{"type":"line"},
 "encoding":{"x":{"field":"x","type":"quantitative","scale":{"domain":[-50,850],"nice":false},"axis":null},"y":{"field":"y","type":"quantitative","scale":{"domain":[0,130],"nice":false},"axis":{"values":[0,20,40,60,80,100,120],"title":"Soybean Yield (% of weed-free)","titleFontSize":38,"titleAngle":270,"titleAlign":"center","titleBaseline":"middle","titleX":-121,"titleY":260}},
 "color":{"field":"s","type":"nominal","scale":{"domain":["Low Density","Standard Density","High Density","5% AYL"],"range":["#000000","#e8282b","#3b2683","#707070"]},"legend":{"orient":"none","legendX":392,"legendY":222,"title":null}},
 "strokeDash":{"field":"s","type":"nominal","scale":{"domain":["Low Density","Standard Density","High Density","5% AYL"],"range":[[1,0],[24,6,3,7,3,6],[20,6],[10,5]]},"legend":{"orient":"none","legendX":392,"legendY":222,"title":null}},
 "strokeWidth":{"field":"s","type":"nominal","scale":{"domain":["Low Density","Standard Density","High Density","5% AYL"],"range":[4.2,4.2,4.2,1]},"legend":{"orient":"none","legendX":392,"legendY":222,"title":null}}}},
{"data":{"values":[{}]},"mark":{"type":"text","text":"B. Target Density Experiment","align":"left","baseline":"alphabetic","font":"Open Sans","fontSize":32.5,"fontWeight":"bold","fontStyle":"italic","color":"#111"},
 "encoding":{"x":{"datum":-45,"type":"quantitative","axis":null},"y":{"datum":121,"type":"quantitative","axis":{"values":[0,20,40,60,80,100,120],"title":"Soybean Yield (% of weed-free)","titleFontSize":38,"titleAngle":270,"titleAlign":"center","titleBaseline":"middle","titleX":-121,"titleY":260}}}}
]
},
{
"width": 698, "height": 503,
"layer": [
{"data":{"name":"ayl"},"transform":[{"filter":"datum.p=='C'"}],"mark":{"type":"rule"},
 "encoding":{"y":{"field":"y","type":"quantitative","scale":{"domain":[0,130],"nice":false},"axis":{"values":[0,20,40,60,80,100,120],"title":null}},
 "color":{"field":"s","type":"nominal","scale":{"domain":["DKB2260","DKB2360","DKB2410","5% AYL"],"range":["#000000","#e8282b","#3b2683","#707070"]},"legend":{"orient":"none","legendX":392,"legendY":223,"title":null}},
 "strokeDash":{"field":"s","type":"nominal","scale":{"domain":["DKB2260","DKB2360","DKB2410","5% AYL"],"range":[[1,0],[24,6,3,7,3,6],[20,6],[10,5]]},"legend":{"orient":"none","legendX":392,"legendY":223,"title":null}},
 "strokeWidth":{"field":"s","type":"nominal","scale":{"domain":["DKB2260","DKB2360","DKB2410","5% AYL"],"range":[4.2,4.2,4.2,1]},"legend":{"orient":"none","legendX":392,"legendY":223,"title":null}}}},
{"data":{"name":"pts"},"transform":[{"filter":"datum.p=='C'"}],"mark":{"type":"rule","strokeWidth":1.2},
 "encoding":{"x":{"field":"x","type":"quantitative","scale":{"domain":[-50,850],"nice":false},"axis":{"values":[0,100,200,300,400,500,600,700,800],"title":"Duration of Weed-Free Period (GDD₅)","titleFontSize":39,"titleY":134,"titleBaseline":"alphabetic","labelPadding":30}},"y":{"field":"lo","type":"quantitative","scale":{"domain":[0,130],"nice":false},"axis":{"values":[0,20,40,60,80,100,120],"title":null}},"y2":{"field":"hi"},
 "stroke":{"field":"s","type":"nominal","scale":{"domain":["DKB2260","DKB2360","DKB2410"],"range":["#2a2a2a","#ee3b3b","#5a4a9e"]},"legend":null}}},
{"data":{"name":"pts"},"transform":[{"filter":"datum.p=='C'"},{"fold":["lo","hi"],"as":["k","v"]}],"mark":{"type":"point","shape":"stroke","size":64,"strokeWidth":1.2,"opacity":1},
 "encoding":{"x":{"field":"x","type":"quantitative","scale":{"domain":[-50,850],"nice":false},"axis":{"values":[0,100,200,300,400,500,600,700,800],"title":"Duration of Weed-Free Period (GDD₅)","titleFontSize":39,"titleY":134,"titleBaseline":"alphabetic","labelPadding":30}},"y":{"field":"v","type":"quantitative","scale":{"domain":[0,130],"nice":false},"axis":{"values":[0,20,40,60,80,100,120],"title":null}},
 "stroke":{"field":"s","type":"nominal","scale":{"domain":["DKB2260","DKB2360","DKB2410"],"range":["#2a2a2a","#ee3b3b","#5a4a9e"]},"legend":null}}},
{"data":{"name":"pts"},"transform":[{"filter":"datum.p=='C'"}],"mark":{"type":"point","filled":true,"size":90,"opacity":1},
 "encoding":{"x":{"field":"x","type":"quantitative","scale":{"domain":[-50,850],"nice":false},"axis":{"values":[0,100,200,300,400,500,600,700,800],"title":"Duration of Weed-Free Period (GDD₅)","titleFontSize":39,"titleY":134,"titleBaseline":"alphabetic","labelPadding":30}},"y":{"field":"y","type":"quantitative","scale":{"domain":[0,130],"nice":false},"axis":{"values":[0,20,40,60,80,100,120],"title":null}},
 "fill":{"field":"s","type":"nominal","scale":{"domain":["DKB2260","DKB2360","DKB2410"],"range":["#111111","#e8282b","#3b2683"]},"legend":null},
 "shape":{"field":"s","type":"nominal","scale":{"domain":["DKB2260","DKB2360","DKB2410"],"range":["circle","triangle-down","diamond"]},"legend":null}}},
{"data":{"name":"crv"},"transform":[{"filter":"datum.p=='C'"}],"mark":{"type":"line"},
 "encoding":{"x":{"field":"x","type":"quantitative","scale":{"domain":[-50,850],"nice":false},"axis":{"values":[0,100,200,300,400,500,600,700,800],"title":"Duration of Weed-Free Period (GDD₅)","titleFontSize":39,"titleY":134,"titleBaseline":"alphabetic","labelPadding":30}},"y":{"field":"y","type":"quantitative","scale":{"domain":[0,130],"nice":false},"axis":{"values":[0,20,40,60,80,100,120],"title":null}},
 "color":{"field":"s","type":"nominal","scale":{"domain":["DKB2260","DKB2360","DKB2410","5% AYL"],"range":["#000000","#e8282b","#3b2683","#707070"]},"legend":{"orient":"none","legendX":392,"legendY":223,"title":null}},
 "strokeDash":{"field":"s","type":"nominal","scale":{"domain":["DKB2260","DKB2360","DKB2410","5% AYL"],"range":[[1,0],[24,6,3,7,3,6],[20,6],[10,5]]},"legend":{"orient":"none","legendX":392,"legendY":223,"title":null}},
 "strokeWidth":{"field":"s","type":"nominal","scale":{"domain":["DKB2260","DKB2360","DKB2410","5% AYL"],"range":[4.2,4.2,4.2,1]},"legend":{"orient":"none","legendX":392,"legendY":223,"title":null}}}},
{"data":{"values":[{}]},"mark":{"type":"text","text":"C. Variety Experiment","align":"left","baseline":"alphabetic","font":"Open Sans","fontSize":32.5,"fontWeight":"bold","fontStyle":"italic","color":"#111"},
 "encoding":{"x":{"datum":-45,"type":"quantitative","axis":{"values":[0,100,200,300,400,500,600,700,800],"title":"Duration of Weed-Free Period (GDD₅)","titleFontSize":39,"titleY":134,"titleBaseline":"alphabetic","labelPadding":30}},"y":{"datum":121,"type":"quantitative","axis":{"values":[0,20,40,60,80,100,120],"title":null}}}}
]
}
],
"resolve": {"scale":{"x":"independent","y":"independent","color":"independent","fill":"independent","stroke":"independent","shape":"independent","strokeDash":"independent","strokeWidth":"independent"},
 "legend":{"color":"independent","strokeDash":"independent","strokeWidth":"independent"}},
"config": {
 "view": {"stroke": "#3a3a3a", "strokeWidth": 1.5},
 "axis": {"grid": false, "domain": false, "labelFont": "Open Sans", "labelFontWeight": "bold", "labelFontSize": 25, "labelColor": "#1a1a1a", "tickColor": "#444444", "tickSize": 8, "tickWidth": 1.3, "labelPadding": 16, "titleFont": "Open Sans", "titleFontWeight": "bold", "titleColor": "#1a1a1a"},
 "axisX": {"labelPadding": 30},
 "legend": {"symbolType": "M-2.5,0H2.5", "symbolSize": 961, "padding": 0, "labelFont": "Open Sans", "labelFontSize": 28, "labelColor": "#1a1a1a", "labelOffset": 38, "rowPadding": 10, "labelLimit": 400}
}
}
